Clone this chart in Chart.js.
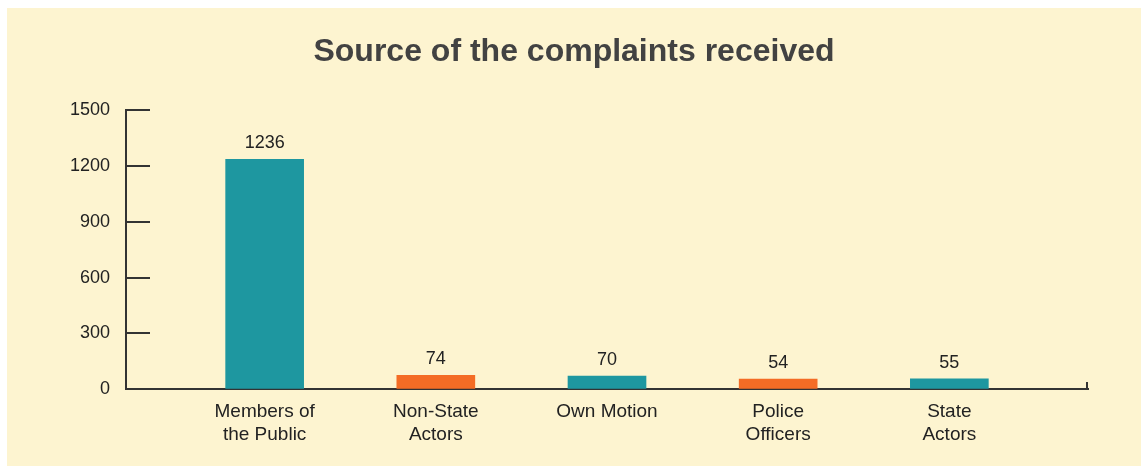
<!DOCTYPE html>
<html>
<head>
<meta charset="utf-8">
<script src="https://cdn.jsdelivr.net/npm/chart.js@4.4.0/dist/chart.umd.min.js"></script>
<style>
  html, body { margin: 0; padding: 0; background: #ffffff; }
  #panel { position: absolute; left: 7px; top: 8px; width: 1134px; height: 458px; background: #fdf4d0; }
  #chart { display: block; }
</style>
</head>
<body>
<div id="panel"><canvas id="chart" width="1134" height="458"></canvas></div>
<script>
// 민원 출처 데이터
const categories = [
  ['Members of', 'the Public'],
  ['Non-State', 'Actors'],
  ['Own Motion'],
  ['Police', 'Officers'],
  ['State', 'Actors']
];
const complaints = [1236, 74, 70, 54, 55];
const barColors = ['#1e97a0', '#f46c25', '#1e97a0', '#f46c25', '#1e97a0'];
const yTicks = [0, 300, 600, 900, 1200, 1500];

const FONT = "'Liberation Sans', Arial, Helvetica, sans-serif";
const INK = '#333333';

// y축 안쪽 눈금 + x축 오른쪽 끝 눈금 + 막대 위 값
const decorPlugin = {
  id: 'decor',
  afterDraw(chart) {
    const ctx = chart.ctx;
    const y = chart.scales.y;
    const x = chart.scales.x;
    ctx.save();
    ctx.strokeStyle = INK;
    ctx.lineWidth = 2;
    y.ticks.forEach(t => {
      const py = Math.round(y.getPixelForValue(t.value));
      ctx.beginPath();
      ctx.moveTo(y.right, py);
      ctx.lineTo(y.right + 24, py);
      ctx.stroke();
    });
    ctx.beginPath();
    ctx.moveTo(x.right - 1, x.top + 1);
    ctx.lineTo(x.right - 1, x.top - 7);
    ctx.stroke();

    ctx.fillStyle = '#222222';
    ctx.font = '18px ' + FONT;
    ctx.textAlign = 'center';
    ctx.textBaseline = 'middle';
    const meta = chart.getDatasetMeta(0);
    meta.data.forEach((bar, i) => {
      ctx.fillText(String(complaints[i]), bar.x, bar.y - 16);
    });
    ctx.restore();
  }
};

new Chart(document.getElementById('chart'), {
  type: 'bar',
  data: {
    datasets: [{
      data: complaints.map((v, i) => ({ x: i, y: v })),
      backgroundColor: barColors,
      borderWidth: 0,
      barThickness: 78
    }]
  },
  options: {
    responsive: false,
    animation: false,
    layout: { padding: { left: 53, right: 53, top: 0, bottom: 0 } },
    plugins: {
      legend: { display: false },
      tooltip: { enabled: false },
      title: {
        display: true,
        text: 'Source of the complaints received',
        color: '#424242',
        font: { family: FONT, size: 32, weight: 'bold' },
        padding: { top: 25, bottom: 39 }
      }
    },
    scales: {
      x: {
        type: 'linear',
        offset: false,
        min: -0.81,
        max: 4.81,
        afterBuildTicks: s => { s.ticks = categories.map((_, i) => ({ value: i })); },
        afterFit: s => { s.height = 77; },
        grid: { display: true, drawOnChartArea: false, drawTicks: false },
        border: { display: true, color: INK, width: 2 },
        ticks: {
          color: '#222222',
          font: { family: FONT, size: 19, lineHeight: 1.22 },
          padding: 11,
          maxRotation: 0,
          autoSkip: false,
          callback: v => categories[v]
        }
      },
      y: {
        min: 0,
        max: 1500,
        afterBuildTicks: s => { s.ticks = yTicks.map(v => ({ value: v })); },
        afterFit: s => { s.width = 66; },
        grid: { display: true, drawOnChartArea: false, drawTicks: false },
        border: { display: true, color: INK, width: 2 },
        ticks: {
          color: '#222222',
          font: { family: FONT, size: 18 },
          padding: 16,
          callback: v => String(v)
        }
      }
    }
  },
  plugins: [decorPlugin]
});
</script>
</body>
</html>
